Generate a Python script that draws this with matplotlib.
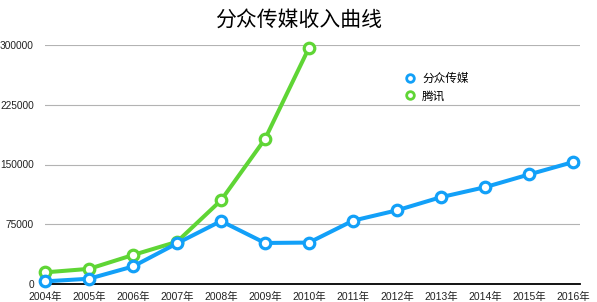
import matplotlib
matplotlib.use("Agg")
import matplotlib.pyplot as plt
from matplotlib.lines import Line2D

years = ["2004年", "2005年", "2006年", "2007年", "2008年", "2009年", "2010年",
         "2011年", "2012年", "2013年", "2014年", "2015年", "2016年"]
focus_media = [3300, 6600, 22000, 51000, 79000, 51500, 52000,
               79500, 92500, 109000, 121500, 137500, 153000]
tencent_years = years[:7]
tencent = [14600, 19000, 36400, 53000, 105000, 182000, 296500]
y_ticks = [0, 75000, 150000, 225000, 300000]
y_tick_labels = ["0", "75000", "150000", "225000", "300000"]
title = "分众传媒收入曲线"
series_names = ["分众传媒", "腾讯"]

blue = "#12a0f8"
green = "#5fd535"
fam = ["Liberation Sans", "Noto Sans CJK SC", "DejaVu Sans"]
plt.rcParams['font.family'] = fam

W, H = 597, 302
fig = plt.figure(figsize=(W / 100, H / 100), dpi=100)
left, right, bottom, top = 45, 580, 284, 45
ax = fig.add_axes([left / W, 1 - bottom / H, (right - left) / W, (bottom - top) / H])

x_all = list(range(len(years)))
ax.set_xlim(0, (right - left) / 44.0)
ax.set_ylim(0, 300000)

for s in ["top", "left", "right"]:
    ax.spines[s].set_visible(False)
ax.spines["bottom"].set_color("black")
ax.spines["bottom"].set_linewidth(1.3)
ax.spines["bottom"].set_zorder(1)

ax.set_yticks(y_ticks)
ax.set_yticklabels(y_tick_labels, fontsize=7.3, color="#222222")
ax.set_xticks(x_all)
ax.set_xticklabels(years, fontsize=7.5, color="#222222")
ax.tick_params(axis="both", length=0)
ax.tick_params(axis="y", pad=8)
ax.tick_params(axis="x", pad=5.5)
for yv in y_ticks[1:]:
    ax.axhline(yv, color="#b3b3b3", lw=0.8, zorder=0)

kw = dict(lw=2.9, marker="o", ms=7.6, mew=2.3, mfc="white", clip_on=False,
          solid_joinstyle="round", solid_capstyle="round")
ax.plot(range(len(tencent)), tencent, color=green, mec=green, zorder=3, **kw)
ax.plot(x_all, focus_media, color=blue, mec=blue, zorder=4, **kw)

handles = [Line2D([], [], ls="none", marker="o", ms=5.5, mew=2.0, mfc="white", mec=blue),
           Line2D([], [], ls="none", marker="o", ms=5.5, mew=2.0, mfc="white", mec=green)]
fig.legend(handles, series_names, loc="upper left",
           bbox_to_anchor=(404 / W, 1 - 73 / H), frameon=False,
           fontsize=8.4, handlelength=1.0, handletextpad=0.55,
           labelspacing=0.45, borderpad=0, borderaxespad=0)

fig.text(0.5, 1 - 20 / H, title, ha="center", va="center", fontsize=15,
         family=["Noto Sans CJK SC", "DejaVu Sans"], color="black")

fig.savefig("out.png", dpi=100)
